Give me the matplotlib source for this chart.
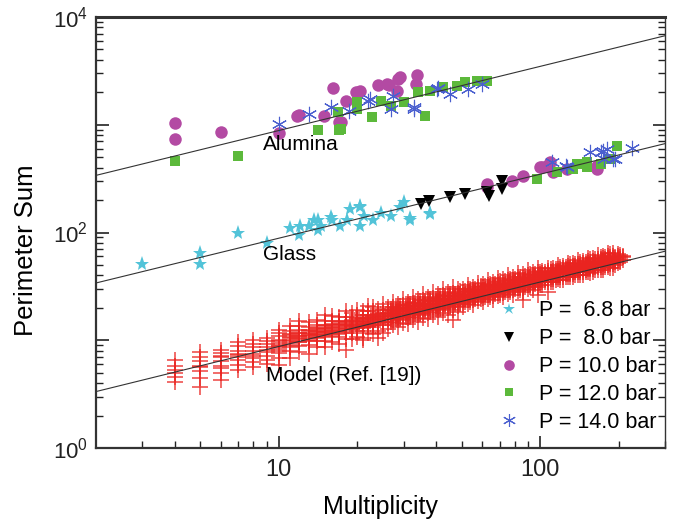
import matplotlib
matplotlib.use("Agg")
import matplotlib.pyplot as plt
from matplotlib.ticker import FixedLocator, FixedFormatter, NullFormatter

plt.rcParams['font.family'] = ['Liberation Sans', 'DejaVu Sans']
plt.rcParams['mathtext.fontset'] = 'custom'
plt.rcParams['mathtext.rm'] = 'Liberation Sans'
plt.rcParams['mathtext.it'] = 'Liberation Sans:italic'

# ---------------- data ----------------
legend_labels = ["P =  6.8 bar", "P =  8.0 bar", "P = 10.0 bar", "P = 12.0 bar", "P = 14.0 bar"]

# Alumina
alu_p10_x = [4.0, 4.0, 6.0, 10.0, 11.7, 11.9, 14.9, 16.1, 18.0, 17.0, 17.3, 19.7, 20.5, 24.0, 26.0, 26.3, 28.4, 28.6, 29.0, 33.9, 33.4]
alu_p10_y = [1030, 733, 851, 834, 1200, 1230, 1200, 2180, 1660, 1070, 1070, 2000, 2050, 2340, 2400, 2340, 2050, 2640, 2770, 2890, 2400]
alu_p12_x = [4.0, 7.0, 14.1, 17.0, 17.3, 16.8, 20.0, 20.0, 22.8, 24.5, 26.8, 30.0, 36.4, 34.0, 38.0, 42.6, 48.2, 51.7, 57.4, 62.7]
alu_p12_y = [458, 509, 888, 888, 908, 1306, 1620, 1393, 1170, 1660, 1480, 1620, 1200, 2000, 2050, 2230, 2300, 2490, 2550, 2550]
alu_p14_x = [10.0, 13.0, 15.8, 18.5, 21.9, 22.4, 26.8, 27.3, 32.8, 32.8, 40.4, 40.8, 45.3, 53.0, 60.0]
alu_p14_y = [1010, 1253, 1455, 1330, 1660, 1740, 1393, 1840, 1393, 1450, 2140, 2200, 1920, 2140, 2400]

# Glass
gla_p68_x = [3.0, 5.0, 5.0, 7.0, 9.0, 11.0, 11.9, 12.1, 13.0, 13.6, 14.1, 14.1, 14.5, 15.8, 16.0, 17.2,
             18.3, 18.8, 20.5, 20.5, 20.5, 21.1, 23.0, 24.5, 26.8, 29.2, 30.0, 31.9, 31.9, 38.0, 38.0]
gla_p68_y = [50.5, 65, 51.5, 100, 80.7, 111, 94, 114, 116, 132, 132, 105, 114, 138, 132, 114,
             132, 164, 175, 114, 171, 141, 132, 153, 141, 171, 190, 137, 132, 147, 153]
gla_p80_x = [34.9, 37.7, 45.3, 51.7, 62.7, 63.8, 71.4, 71.4]
gla_p80_y = [182, 198, 212, 226, 240, 216, 300, 255]
gla_p10_x = [62.7, 62.7, 78.0, 86.0, 100.0, 101.7, 106.0, 109.0, 112.0, 127.0, 165.0, 165.0]
gla_p10_y = [280, 262, 298, 331, 403, 403, 411, 448, 362, 385, 411, 385]
gla_p12_x = [97.5, 116.0, 134.0, 138.0, 151.0, 151.0, 170.0, 185.0, 197.0]
gla_p12_y = [311, 362, 385, 430, 403, 448, 430, 478, 631]
gla_p14_x = [111.0, 125.0, 127.0, 155.0, 170.0, 174.0, 175.0, 180.0, 190.0, 194.0, 224.0]
gla_p14_y = [448, 410, 403, 555, 555, 570, 478, 591, 478, 478, 610]

# Model (Ref. [19]) : columns of multiplicity with perimeter sums
model_x = [4, 5, 6, 7, 8, 9, 10, 11, 12, 13, 14, 15, 16, 17, 18, 19, 20, 21, 22, 23, 24, 25,
           26.2, 27.4, 28.6, 29.9, 31.2, 32.6, 34.1, 35.6, 37.2, 38.9, 40.6, 42.4, 44.3, 46.3, 48.4,
           50.6, 52.9, 55.3, 57.8, 60.4, 63.1, 65.9, 68.9, 72, 75.2, 78.6, 82.1, 85.8, 89.7, 93.7, 97.9,
           102, 107, 112, 117, 122, 128, 133, 139, 146, 152, 159, 166, 174, 181, 190, 198, 207]
model_y = [
    [4.1, 4.6, 5.0, 5.3, 5.8, 6.6],
    [3.7, 4.5, 5.2, 5.6, 5.8, 6.4, 7.0, 7.8],
    [4.3, 5.0, 5.5, 5.8, 6.4, 7.0, 7.2, 7.6, 8.2],
    [5.3, 5.9, 6.5, 7.0, 7.3, 7.5, 8.0, 8.8, 9.7],
    [5.7, 6.3, 6.8, 7.1, 7.5, 8.0, 8.6, 9.3, 10.0],
    [6.0, 6.6, 7.2, 7.8, 8.2, 8.7, 9.3, 9.9, 10.5],
    [5.9, 6.9, 7.6, 8.3, 8.8, 9.4, 10.1, 10.9, 11.7, 12.5],
    [6.9, 7.9, 8.7, 9.4, 10.1, 10.7, 11.4, 12.3, 13.6],
    [7.7, 8.8, 9.6, 10.3, 10.9, 11.7, 12.5, 13.7, 15.2],
    [7.4, 9.0, 9.9, 10.6, 11.2, 11.8, 12.5, 13.4, 14.9],
    [8.7, 9.9, 10.7, 11.4, 12.2, 13.0, 13.9, 15.3],
    [8.6, 9.8, 10.8, 11.6, 12.3, 13.0, 13.9, 15.0, 17.2],
    [9.6, 10.9, 11.8, 12.5, 13.3, 14.1, 15.1, 16.9],
    [9.2, 10.8, 11.9, 12.7, 13.3, 14.1, 15.2, 16.5],
    [10.3, 11.7, 12.6, 13.5, 14.3, 15.2, 16.3, 18.5, 8.1],
    [10.2, 11.7, 12.7, 13.7, 14.5, 15.4, 16.4, 17.9],
    [10.7, 12.3, 13.3, 14.2, 15.1, 16.0, 17.3, 18.9],
    [10.4, 12.2, 13.4, 14.3, 15.2, 16.1, 17.1, 18.6, 10.1],
    [11.8, 13.2, 14.2, 15.1, 16.1, 17.1, 18.5, 20.7],
    [11.5, 13.3, 14.4, 15.3, 16.3, 17.2, 18.5, 20.2],
    [12.3, 13.9, 15.1, 16.0, 17.0, 18.0, 19.3, 10.6],
    [11.6, 13.8, 14.9, 15.9, 16.9, 17.9, 19.1, 21.6],
    [12.7, 14.5, 15.7, 16.8, 17.8, 19.0, 20.5],
    [13.9, 15.5, 16.7, 17.7, 18.8, 20.2, 22.8],
    [13.3, 15.3, 16.6, 17.6, 18.7, 20.0, 21.6],
    [14.6, 16.3, 17.6, 18.7, 19.8, 21.3, 24.0],
    [14.1, 16.2, 17.5, 18.6, 19.8, 21.1, 22.8],
    [15.4, 17.2, 18.5, 19.7, 20.9, 22.4, 25.4],
    [14.8, 17.0, 18.4, 19.6, 20.8, 22.2, 24.0],
    [16.2, 18.0, 19.5, 20.7, 21.9, 23.6, 26.7],
    [15.6, 17.9, 19.4, 20.7, 21.9, 23.4, 25.3],
    [17.1, 19.0, 20.5, 21.8, 23.1, 24.8, 28.1],
    [16.4, 18.9, 20.4, 21.8, 23.1, 24.6, 26.6],
    [18.0, 20.1, 21.7, 23.0, 24.4, 26.2, 29.6],
    [17.3, 19.9, 21.5, 22.9, 24.3, 26.0, 28.1],
    [19.0, 21.1, 22.8, 24.2, 25.7, 27.6, 31.2, 15.5],
    [18.3, 21.0, 22.7, 24.2, 25.7, 27.4, 29.6],
    [20.2, 22.3, 23.8, 25.0, 26.3, 27.8, 29.9],
    [21.8, 23.7, 25.2, 26.5, 27.8, 29.6, 32.5],
    [21.4, 23.5, 25.1, 26.4, 27.8, 29.4, 31.5],
    [23.0, 24.9, 26.6, 27.9, 29.3, 31.2, 34.3],
    [22.5, 24.7, 26.4, 27.8, 29.2, 30.9, 33.2],
    [24.3, 26.3, 28.0, 29.5, 30.9, 32.9, 36.1],
    [23.7, 26.0, 27.8, 29.3, 30.8, 32.6, 34.9],
    [25.5, 27.7, 29.5, 31.0, 32.5, 34.7, 38.0],
    [25.0, 27.5, 29.3, 30.9, 32.4, 34.3, 36.8],
    [27.0, 29.2, 31.1, 32.7, 34.3, 36.6, 40.1],
    [26.3, 29.0, 30.9, 32.6, 34.2, 36.2, 38.8],
    [28.4, 30.8, 32.8, 34.5, 36.2, 38.5, 42.3],
    [27.8, 30.5, 32.6, 34.4, 36.1, 38.2, 40.9, 23.8],
    [29.9, 32.4, 34.5, 36.3, 38.1, 40.6, 44.5],
    [29.3, 32.2, 34.4, 36.2, 38.1, 40.3, 43.2],
    [31.5, 34.1, 36.4, 38.3, 40.1, 42.8, 46.9, 26.4],
    [32.7, 35.0, 37.0, 38.5, 40.0, 42.0, 44.3],
    [34.8, 36.8, 38.8, 40.4, 42.0, 44.0, 47.1, 28.2],
    [34.5, 36.9, 39.0, 40.6, 42.2, 44.3, 46.7],
    [36.7, 38.8, 40.9, 42.5, 44.2, 46.3, 49.6],
    [36.4, 38.9, 41.1, 42.8, 44.5, 46.7, 49.2],
    [38.7, 40.9, 43.1, 44.9, 46.6, 48.8, 52.4],
    [38.3, 41.0, 43.3, 45.1, 46.9, 49.2, 51.9],
    [40.7, 43.1, 45.4, 47.2, 49.1, 51.4, 55.1],
    [40.5, 43.3, 45.7, 47.6, 49.5, 51.9, 54.7],
    [42.9, 45.4, 47.8, 49.8, 51.7, 54.2, 58.1],
    [42.6, 45.6, 48.1, 50.1, 52.1, 54.6, 57.6],
    [45.3, 47.9, 50.5, 52.5, 54.6, 57.2, 61.3],
    [44.9, 48.0, 50.7, 52.8, 54.9, 57.6, 60.7],
    [47.7, 50.4, 53.1, 55.3, 57.5, 60.2, 64.5],
    [47.3, 50.7, 53.5, 55.7, 57.9, 60.7, 64.1],
    [52.6, 55.5, 57.8, 60.1, 62.9],
    [55.8, 58.7, 61.0],
]

# second group of model events (fills the dense core of the band)
model_x_b = [10, 11, 12, 13, 14, 15, 16, 17, 18, 19, 20, 21, 22, 23, 24, 25,
             26.8, 28.0, 29.2, 30.6, 31.9, 33.3, 34.8, 36.4, 38.0, 39.8, 41.5, 43.3, 45.3, 47.3, 49.5,
             51.7, 54.1, 56.5, 59.1, 61.7, 64.5, 67.3, 70.4, 73.6, 76.9, 80.3, 83.9, 87.7, 91.7, 95.8,
             100, 104.5, 109.5, 114.5, 119.5, 125, 130.5, 136, 142.5, 149, 155.5, 162.5, 170, 177, 185, 194, 202]
model_y_b = [
    [8.0, 8.6, 9.1, 9.8],
    [9.1, 9.8, 10.4, 11.1],
    [9.6, 10.4, 11.0, 11.8],
    [10.1, 10.9, 11.5, 12.3],
    [10.4, 11.1, 11.9, 12.6],
    [11.1, 11.9, 12.7, 13.5],
    [11.4, 12.2, 13.0, 13.8],
    [11.5, 12.3, 13.8, 14.7],
    [12.1, 13.0, 13.9, 14.8],
    [12.7, 13.2, 14.0, 15.0],
    [13.0, 13.8, 14.7, 15.6],
    [13.0, 13.9, 14.8, 15.7],
    [13.7, 14.6, 15.6, 16.6],
    [14.0, 14.9, 15.8, 16.8],
    [14.5, 15.5, 16.5, 17.6],
    [14.9, 15.6, 16.4, 17.4],
    [14.9, 15.9, 16.6, 17.3, 18.0, 18.7, 19.7],
    [15.8, 16.7, 17.4, 18.2, 18.9, 19.8],
    [15.7, 16.7, 17.5, 18.2, 18.9, 19.7, 20.7],
    [16.6, 17.6, 18.3, 19.1, 19.8, 20.8],
    [16.5, 17.7, 18.4, 19.2, 20.0, 20.7, 21.9],
    [17.6, 18.6, 19.4, 20.2, 21.0, 22.0],
    [17.5, 18.7, 19.5, 20.3, 21.1, 21.9, 23.1],
    [18.5, 19.6, 20.4, 21.2, 22.0, 23.1],
    [18.4, 19.7, 20.5, 21.4, 22.3, 23.1, 24.4],
    [19.5, 20.6, 21.5, 22.3, 23.2, 24.3],
    [19.4, 20.7, 21.6, 22.5, 23.4, 24.3, 25.7],
    [20.6, 21.7, 22.6, 23.6, 24.5, 25.6],
    [20.4, 21.8, 22.8, 23.7, 24.6, 25.6, 27.0],
    [21.6, 22.8, 23.8, 24.8, 25.8, 27.0],
    [21.5, 23.0, 24.0, 25.0, 26.0, 27.0, 28.5],
    [22.8, 24.1, 25.1, 26.1, 27.1, 28.4],
    [22.6, 24.2, 25.2, 26.3, 27.4, 28.4, 30.0],
    [24.0, 25.4, 26.5, 27.5, 28.6, 30.0],
    [23.9, 25.6, 26.7, 27.8, 28.9, 30.0, 31.7],
    [25.4, 26.8, 27.9, 29.1, 30.2, 31.6],
    [25.2, 27.0, 28.1, 29.3, 30.5, 31.6, 33.4],
    [26.7, 28.2, 29.4, 30.6, 31.8, 33.3],
    [26.5, 28.3, 29.6, 30.8, 32.0, 33.3, 35.1],
    [28.1, 29.7, 31.0, 32.2, 33.5, 35.1],
    [28.0, 29.9, 31.2, 32.5, 33.8, 35.1, 37.1],
    [29.6, 31.3, 32.6, 34.0, 35.3, 37.0],
    [29.4, 31.5, 32.8, 34.2, 35.6, 36.9, 39.0],
    [31.3, 33.1, 34.5, 35.9, 37.3, 39.1],
    [31.0, 33.2, 34.7, 36.1, 37.5, 39.0, 41.2],
    [33.0, 34.9, 36.4, 37.8, 39.3, 41.2],
    [32.7, 35.0, 36.5, 38.0, 39.5, 41.0, 43.3],
    [34.7, 36.7, 38.2, 39.8, 41.3, 43.3],
    [34.5, 36.9, 38.5, 40.1, 41.7, 43.3, 45.7],
    [36.6, 38.6, 40.3, 41.9, 43.6, 45.6],
    [36.3, 38.8, 40.5, 42.2, 43.9, 45.6, 48.1],
    [38.6, 40.8, 42.5, 44.3, 46.0, 48.2],
    [38.4, 41.0, 42.8, 44.6, 46.4, 48.2, 50.8],
    [40.7, 43.0, 44.8, 46.6, 48.4, 50.7],
    [40.3, 43.1, 45.0, 46.9, 48.8, 50.7, 53.5],
    [42.9, 45.3, 47.2, 49.2, 51.1, 53.5],
    [42.5, 45.4, 47.4, 49.4, 51.4, 53.4, 56.3],
    [45.2, 47.8, 49.8, 51.8, 53.8, 56.4],
    [44.9, 48.0, 50.1, 52.2, 54.3, 56.4, 59.5],
    [47.6, 50.3, 52.4, 54.6, 56.7, 59.4],
    [47.2, 50.5, 52.7, 54.9, 57.1, 59.3, 62.6],
    [50.2, 53.0, 55.3, 57.5, 59.8],
    [53.8, 56.7, 59.1, 61.4],
]

# fitted power-law lines (end points)
fit_x = [2, 300]
alumina_fit = [339, 6700]
glass_fit = [34.0, 668]
model_fit = [3.34, 67.0]

# ---------------- figure ----------------
fig = plt.figure(figsize=(6.78, 5.26), dpi=100)
ax = fig.add_axes([96 / 678, 1 - 448 / 526, (665 - 96) / 678, (448 - 17) / 526])
ax.set_xscale('log')
ax.set_yscale('log')
ax.set_xlim(2, 300)
ax.set_ylim(1, 1e4)

c_cyan = '#52c3d8'
c_mag = '#b34aa3'
c_green = '#5cb93b'
c_blue = '#4a5fcf'
c_red = '#ea2420'

mx = [x for x, ys in zip(model_x, model_y) for _ in ys] + [x for x, ys in zip(model_x_b, model_y_b) for _ in ys]
my = [y for ys in model_y for y in ys] + [y for ys in model_y_b for y in ys]
ax.plot(mx, my, ls='none', marker='+', ms=11, mew=1.1, color=c_red, alpha=0.85, zorder=2)

ax.plot(gla_p68_x, gla_p68_y, ls='none', marker='*', ms=11, mew=0, color=c_cyan, zorder=3, label=legend_labels[0])
ax.plot(gla_p80_x, gla_p80_y, ls='none', marker='v', ms=9, mew=0, color='black', zorder=4, label=legend_labels[1])
ax.plot(alu_p10_x + gla_p10_x, alu_p10_y + gla_p10_y, ls='none', marker='o', ms=9, mew=0, color=c_mag, zorder=3, label=legend_labels[2])
ax.plot(alu_p12_x + gla_p12_x, alu_p12_y + gla_p12_y, ls='none', marker='s', ms=7.5, mew=0, color=c_green, zorder=3.5, label=legend_labels[3])
ax.plot(alu_p14_x + gla_p14_x, alu_p14_y + gla_p14_y, ls='none', marker=(6, 2, 0), ms=11, mew=0.8, color=c_blue, zorder=3.6, label=legend_labels[4])

for fy in (alumina_fit, glass_fit, model_fit):
    ax.plot(fit_x, fy, color='#333333', lw=0.8, zorder=5)

ax.text(8.67, 660, 'Alumina', fontsize=15, va='center', ha='left', zorder=6)
ax.text(8.67, 62, 'Glass', fontsize=15, va='center', ha='left', zorder=6)
ax.text(8.97, 4.75, 'Model (Ref. [19])', fontsize=15, va='center', ha='left', zorder=6)

# ticks
ax.xaxis.set_major_locator(FixedLocator([10, 100]))
ax.xaxis.set_major_formatter(FixedFormatter(['10', '100']))
xminor = [3, 4, 5, 6, 7, 8, 9, 20, 30, 40, 50, 60, 70, 80, 90, 200, 300]
ax.xaxis.set_minor_locator(FixedLocator(xminor))
ax.xaxis.set_minor_formatter(NullFormatter())

ax.yaxis.set_major_locator(FixedLocator([1, 10, 100, 1000, 10000]))
ax.yaxis.set_major_formatter(FixedFormatter([r'$\mathregular{10^0}$', '', r'$\mathregular{10^2}$', '', r'$\mathregular{10^4}$']))
yminor = [m * 10 ** e for e in range(4) for m in range(2, 10)]
ax.yaxis.set_minor_locator(FixedLocator(yminor))
ax.yaxis.set_minor_formatter(NullFormatter())

ax.tick_params(which='both', direction='in', top=False, right=True, colors='#222222')
ax.tick_params(axis='x', which='major', labelsize=17, pad=8)
ax.tick_params(axis='y', which='major', labelsize=16, pad=6)
ax.tick_params(which='major', length=9, width=1.2)
ax.tick_params(which='minor', length=5, width=1.0)

for side, lw in (('top', 2.2), ('bottom', 1.6), ('left', 1.6), ('right', 1.0)):
    ax.spines[side].set_linewidth(lw)
    ax.spines[side].set_color('#333333')

ax.set_xlabel('Multiplicity', fontsize=18, labelpad=10)
ax.set_ylabel('Perimeter Sum', fontsize=18.5)
ax.yaxis.set_label_coords(-0.102, 0.459)

leg = ax.legend(loc='lower right', bbox_to_anchor=(0.985, 0.035), frameon=False, fontsize=15.5,
                handlelength=1.0, handletextpad=0.9, labelspacing=0.32, borderpad=0, borderaxespad=0,
                markerscale=0.85)

fig.savefig('out.png', dpi=100)
